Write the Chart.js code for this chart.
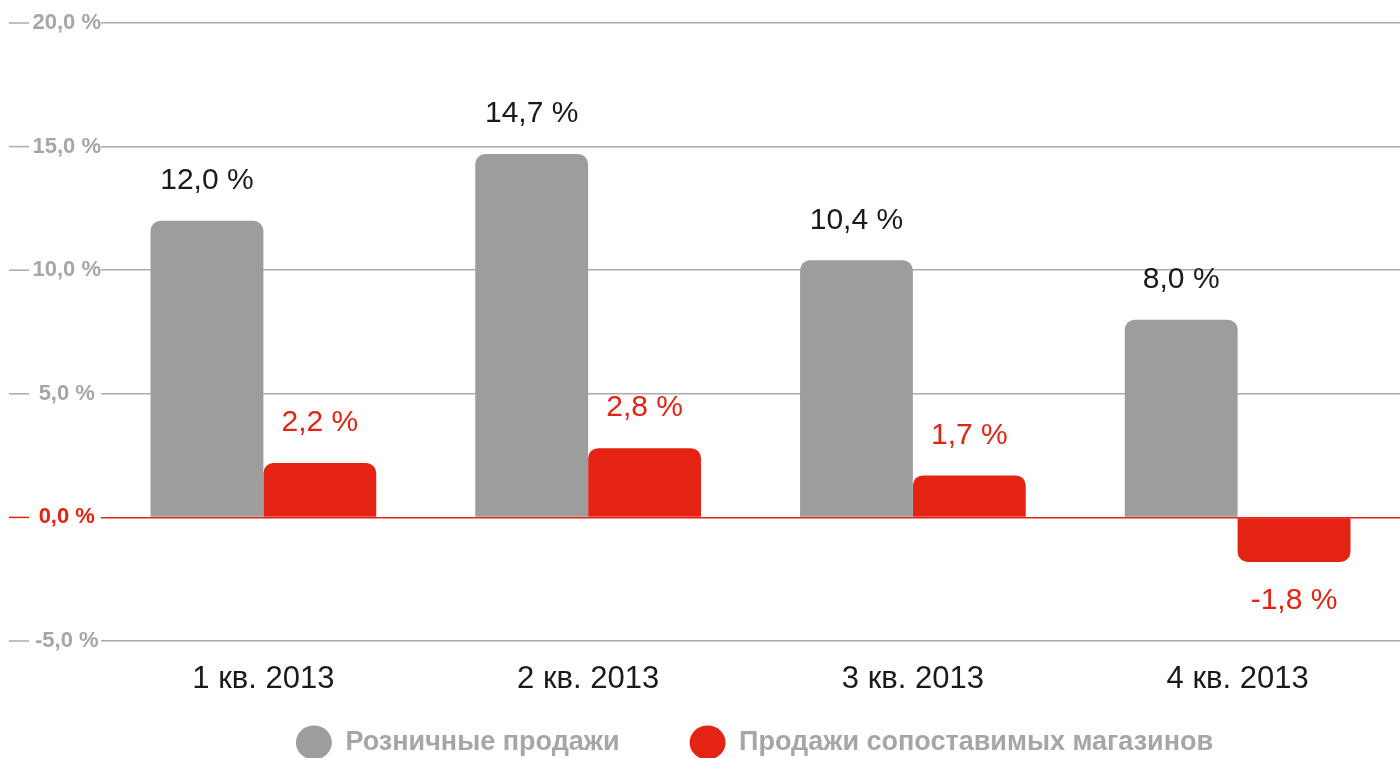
<!DOCTYPE html>
<html lang="ru">
<head>
<meta charset="UTF-8">
<title>Розничные продажи 2013</title>
<script src="https://cdn.jsdelivr.net/npm/chart.js@4"></script>
<style>
  html, body { margin: 0; padding: 0; background: #fff; overflow: hidden; }
  #wrap { width: 1400px; height: 808px; }
</style>
</head>
<body>
<div id="wrap"><canvas id="grafico"></canvas></div>
<script>
  const quarters = ['1 кв. 2013', '2 кв. 2013', '3 кв. 2013', '4 кв. 2013'];
  const retailSales = [12.0, 14.7, 10.4, 8.0];
  const likeForLike = [2.2, 2.8, 1.7, -1.8];
  const seriesNames = ['Розничные продажи', 'Продажи сопоставимых магазинов'];
  const yTicks = [-5, 0, 5, 10, 15, 20];

  const GREY = '#9d9d9c', RED = '#e42313', GRID = '#ababab', LABEL = '#a6a6a6';
  const FONT = '"Liberation Sans", Arial, sans-serif';
  const pct = v => v.toFixed(1).replace('.', ',') + ' %';

  // подписи значений над/под столбцами
  const valueLabels = {
    id: 'valueLabels',
    afterDatasetsDraw(chart) {
      const ctx = chart.ctx;
      ctx.save();
      ctx.font = '30px ' + FONT;
      ctx.textAlign = 'center';
      ctx.textBaseline = 'middle';
      chart.data.datasets.forEach((ds, i) => {
        chart.getDatasetMeta(i).data.forEach((bar, j) => {
          const v = ds.data[j];
          ctx.fillStyle = i === 0 ? '#1a1a1a' : RED;
          ctx.fillText(pct(v), bar.x, v >= 0 ? bar.y - 40 : bar.y + 39);
        });
      });
      ctx.restore();
    }
  };

  // короткие штрихи слева от подписей оси Y
  const tickStubs = {
    id: 'tickStubs',
    beforeDatasetsDraw(chart) {
      const y = chart.scales.y, ctx = chart.ctx;
      ctx.save();
      ctx.lineWidth = 1.5;
      y.ticks.forEach(t => {
        const py = y.getPixelForValue(t.value);
        ctx.strokeStyle = t.value === 0 ? RED : GRID;
        ctx.beginPath();
        ctx.moveTo(9, py);
        ctx.lineTo(29, py);
        ctx.stroke();
      });
      ctx.restore();
    }
  };

  // легенда ближе к подписям оси X (padding легенды нужен для шага по горизонтали)
  const legendShift = {
    id: 'legendShift',
    afterLayout(chart) {
      const lg = chart.legend;
      lg.top -= 42;
      lg.bottom -= 42;
      lg.left += 4;
      lg.right += 4;
    }
  };

  new Chart(document.getElementById('grafico'), {
    type: 'bar',
    data: {
      labels: quarters,
      datasets: [{
        label: seriesNames[0],
        data: retailSales,
        backgroundColor: GREY,
        borderRadius: 10,
        borderWidth: 0
      }, {
        label: seriesNames[1],
        data: likeForLike,
        backgroundColor: RED,
        borderRadius: 10,
        borderWidth: 0
      }]
    },
    options: {
      responsive: true,
      maintainAspectRatio: false,
      animation: false,
      layout: { padding: { top: 23, right: -3, bottom: 0 } },
      datasets: { bar: { barPercentage: 1, categoryPercentage: 0.695 } },
      scales: {
        x: {
          afterFit: s => { s.height = 60; },
          grid: { display: false, drawTicks: false },
          border: { display: false },
          ticks: { color: '#1a1a1a', font: { family: FONT, size: 31 }, padding: 20 }
        },
        y: {
          min: -5,
          max: 20,
          afterBuildTicks: s => { s.ticks = yTicks.map(v => ({ value: v })); },
          afterFit: s => { s.width = 101; },
          border: { display: false },
          grid: {
            drawTicks: false,
            lineWidth: 1.5,
            color: c => c.tick && c.tick.value === 0 ? RED : GRID
          },
          ticks: {
            padding: 0,
            crossAlign: 'center',
            callback: v => pct(v),
            color: c => c.tick && c.tick.value === 0 ? RED : LABEL,
            font: { family: FONT, size: 22, weight: 'bold' }
          }
        }
      },
      plugins: {
        tooltip: { enabled: false },
        legend: {
          position: 'bottom',
          fullSize: false,
          labels: {
            usePointStyle: true,
            pointStyle: 'circle',
            pointStyleWidth: 36,
            boxHeight: 24,
            padding: 70,
            color: LABEL,
            font: { family: FONT, size: 27, weight: 'bold' }
          }
        }
      }
    },
    plugins: [valueLabels, tickStubs, legendShift]
  });
</script>
</body>
</html>
